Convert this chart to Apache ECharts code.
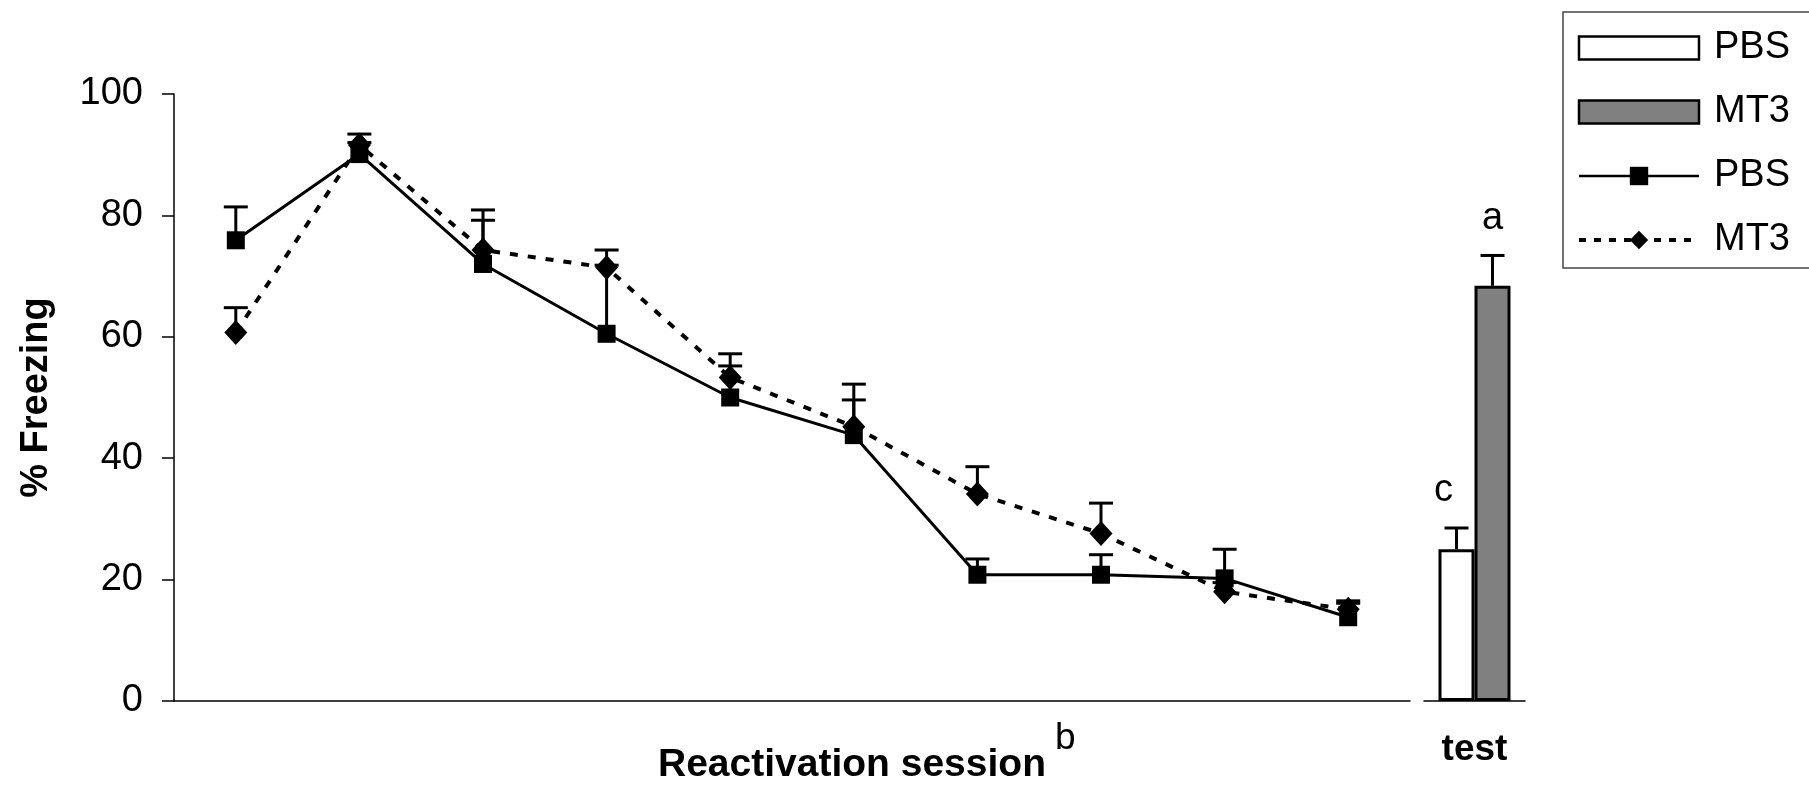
<!DOCTYPE html>
<html>
<head>
<meta charset="utf-8">
<script src="https://cdn.jsdelivr.net/npm/echarts@6/dist/echarts.min.js"></script>
<style>
  html, body { margin: 0; padding: 0; background: #fff; }
  #chart { width: 1809px; height: 794px; }
</style>
</head>
<body>
<div id="chart"></div>
<script>
// reactivation sessions 1..10
const sessions = ['1', '2', '3', '4', '5', '6', '7', '8', '9', '10'];
const pbsMeans = [75.9, 90.1, 72.0, 60.5, 50.0, 43.8, 20.8, 20.8, 20.2, 13.8];
const pbsSem = [5.5, 1.9, 7.2, 11.3, 5.2, 5.8, 2.6, 3.3, 4.8, 2.3];
const mt3Means = [60.7, 91.6, 74.3, 71.4, 53.3, 45.2, 34.1, 27.6, 18.0, 15.1];
const mt3Sem = [4.1, 1.8, 6.6, 2.9, 3.9, 7.0, 4.5, 5.0, 1.5, 1.4];

// test session
const testCategory = ['test'];
const testMeans = [25.0, 68.4];
const testSem = [3.5, 5.0];
const testLetters = ['c', 'a'];

const yTicks = [0, 20, 40, 60, 80, 100];

const FONT = '"Liberation Sans", Arial, sans-serif';
const BAR_WIDTH = 36;

function errorBarRenderer(offsetX, letter, letterShift) {
  return function (params, api) {
    const base = api.coord([api.value(0), api.value(1)]);
    const top = api.coord([api.value(0), api.value(1) + api.value(2)]);
    const x = base[0] + offsetX;
    const children = [
      {
        type: 'line',
        shape: { x1: x, y1: base[1], x2: x, y2: top[1] },
        style: { stroke: '#000', lineWidth: 3 },
      },
      {
        type: 'line',
        shape: { x1: x - 12, y1: top[1], x2: x + 12, y2: top[1] },
        style: { stroke: '#000', lineWidth: 3 },
      },
    ];
    if (letter) {
      children.push({
        type: 'text',
        style: {
          text: letter,
          x: x + (letterShift || 0),
          y: top[1] - 37,
          align: 'center',
          verticalAlign: 'middle',
          fill: '#000',
          font: '38px ' + FONT,
        },
      });
    }
    return { type: 'group', children: children };
  };
}

const chart = echarts.init(document.getElementById('chart'), null, { renderer: 'canvas' });

const option = {
  animation: false,
  backgroundColor: '#fff',
  textStyle: { fontFamily: FONT, color: '#000' },
  grid: [
    { left: 174, top: 94, width: 1236, height: 607 },
    { left: 1424, top: 94, width: 101, height: 607 },
  ],
  legend: {
    orient: 'vertical',
    left: 1563,
    top: 12,
    padding: [16, 30, 8, 14],
    itemGap: 24,
    itemWidth: 120,
    itemHeight: 23,
    borderColor: '#444',
    borderWidth: 1.5,
    textStyle: {
      fontSize: 38,
      lineHeight: 40,
      fontFamily: FONT,
      color: '#000',
      padding: [0, 0, 0, 10],
    },
    formatter: (name) => name.replace(' (test)', ''),
    data: [
      { name: 'PBS (test)', icon: 'rect', itemStyle: { borderColor: '#000', borderWidth: 2.5 } },
      { name: 'MT3 (test)', icon: 'rect', itemStyle: { borderColor: '#000', borderWidth: 2.5 } },
      { name: 'PBS', lineStyle: { width: 2.5 } },
      { name: 'MT3', lineStyle: { type: [7, 8], width: 4 } },
    ],
  },
  xAxis: [
    {
      type: 'category',
      gridIndex: 0,
      data: sessions,
      axisLine: { lineStyle: { color: '#000', width: 1.5 } },
      axisTick: { show: false },
      axisLabel: { show: false },
    },
    {
      type: 'category',
      gridIndex: 1,
      data: testCategory,
      axisLine: { lineStyle: { color: '#000', width: 1.5 } },
      axisTick: { show: false },
      axisLabel: {
        margin: 30,
        fontSize: 37,
        fontWeight: 'bold',
        fontFamily: FONT,
        color: '#000',
      },
    },
  ],
  yAxis: [
    {
      type: 'value',
      gridIndex: 0,
      min: yTicks[0],
      max: yTicks[yTicks.length - 1],
      interval: 20,
      name: '% Freezing',
      nameLocation: 'middle',
      nameRotate: 90,
      nameGap: 118,
      nameTextStyle: {
        fontSize: 38,
        fontWeight: 'bold',
        fontFamily: FONT,
        color: '#000',
      },
      splitLine: { show: false },
      axisLine: { show: true, lineStyle: { color: '#000', width: 1.5 } },
      axisTick: { show: true, length: 12, lineStyle: { color: '#000', width: 1.5 } },
      axisLabel: {
        margin: 31,
        fontSize: 38,
        fontFamily: FONT,
        color: '#000',
      },
    },
    {
      type: 'value',
      gridIndex: 1,
      min: yTicks[0],
      max: yTicks[yTicks.length - 1],
      show: false,
      splitLine: { show: false },
    },
  ],
  graphic: [
    {
      type: 'text',
      left: 658,
      top: 746,
      style: {
        text: 'Reactivation session',
        font: 'bold 39px ' + FONT,
        fill: '#000',
      },
    },
    {
      type: 'text',
      left: 1055,
      top: 720,
      style: {
        text: 'b',
        font: '37px ' + FONT,
        fill: '#000',
      },
    },
  ],
  series: [
    {
      type: 'custom',
      name: 'pbs-err',
      xAxisIndex: 0,
      yAxisIndex: 0,
      z: 2,
      encode: { x: 0, y: 1 },
      renderItem: errorBarRenderer(0),
      data: sessions.map((s, i) => [i, pbsMeans[i], pbsSem[i]]),
    },
    {
      type: 'custom',
      name: 'mt3-err',
      xAxisIndex: 0,
      yAxisIndex: 0,
      z: 2,
      encode: { x: 0, y: 1 },
      renderItem: errorBarRenderer(0),
      data: sessions.map((s, i) => [i, mt3Means[i], mt3Sem[i]]),
    },
    {
      type: 'line',
      name: 'PBS',
      xAxisIndex: 0,
      yAxisIndex: 0,
      z: 3,
      symbol: 'rect',
      symbolSize: 18,
      lineStyle: { color: '#000', width: 3 },
      itemStyle: { color: '#000' },
      data: pbsMeans,
    },
    {
      type: 'line',
      name: 'MT3',
      xAxisIndex: 0,
      yAxisIndex: 0,
      z: 4,
      symbol: 'diamond',
      symbolSize: [23, 25],
      lineStyle: { color: '#000', width: 4, type: [8, 10] },
      itemStyle: { color: '#000' },
      data: mt3Means,
    },
    {
      type: 'bar',
      name: 'PBS (test)',
      xAxisIndex: 1,
      yAxisIndex: 1,
      barWidth: BAR_WIDTH,
      barGap: '0%',
      itemStyle: { color: '#fff', borderColor: '#000', borderWidth: 3 },
      data: [testMeans[0]],
    },
    {
      type: 'bar',
      name: 'MT3 (test)',
      xAxisIndex: 1,
      yAxisIndex: 1,
      barWidth: BAR_WIDTH,
      barGap: '0%',
      itemStyle: { color: '#808080', borderColor: '#000', borderWidth: 3 },
      data: [testMeans[1]],
    },
    {
      type: 'custom',
      name: 'pbs-test-err',
      xAxisIndex: 1,
      yAxisIndex: 1,
      z: 3,
      encode: { x: 0, y: 1 },
      renderItem: errorBarRenderer(-BAR_WIDTH / 2, testLetters[0], -13),
      data: [[0, testMeans[0], testSem[0]]],
    },
    {
      type: 'custom',
      name: 'mt3-test-err',
      xAxisIndex: 1,
      yAxisIndex: 1,
      z: 3,
      encode: { x: 0, y: 1 },
      renderItem: errorBarRenderer(BAR_WIDTH / 2, testLetters[1], 0),
      data: [[0, testMeans[1], testSem[1]]],
    },
  ],
};

chart.setOption(option);
</script>
</body>
</html>
